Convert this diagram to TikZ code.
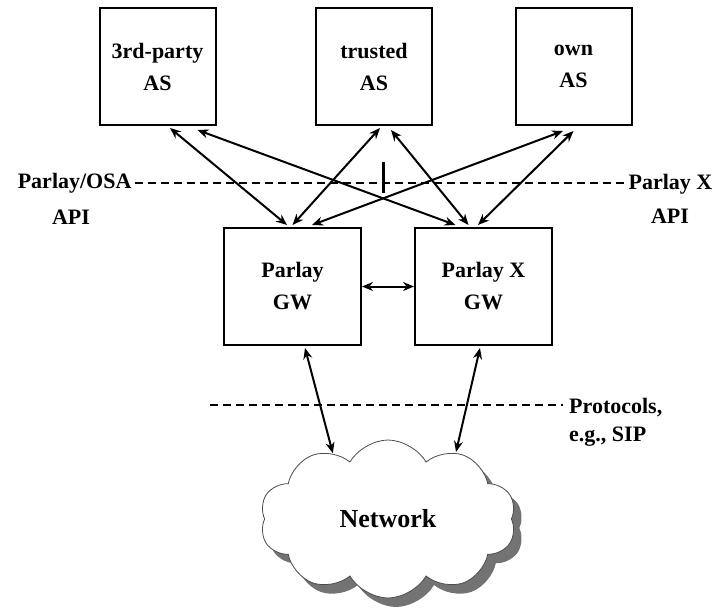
\documentclass[tikz,border=0pt]{standalone}
\usepackage{fontspec}
\setmainfont{Liberation Serif}
\usetikzlibrary{shapes.symbols,shadows,arrows.meta}

\begin{document}
\begin{tikzpicture}[x=1pt,y=-1pt,
    lbl/.style={font=\fontsize{22}{32}\selectfont\bfseries},
    box/.style={draw,line width=2pt,minimum width=116pt,minimum height=117pt,align=center,inner sep=0pt,lbl},
    gwbox/.style={box,minimum width=137pt},
    link/.style={{Stealth[length=11pt,width=9pt]}-{Stealth[length=11pt,width=9pt]},line width=2pt},
    sep/.style={dash pattern=on 8pt off 5pt,line width=2pt}]
    \useasboundingbox (0,0) rectangle (717,613);
    % application servers
    \node[box] (third) at (157.5,66.5) {3rd-party\\AS};
    \node[box] (trusted) at (374,66.5) {trusted\\AS};
    \node[box] (own) at (573.5,66.5) {own\\AS};
    % gateways
    \node[gwbox] (pgw) at (292.5,286.5) {Parlay\\GW};
    \node[gwbox] (pxgw) at (483.5,286.5) {Parlay X\\GW};
    % network
    \node[cloud,cloud puffs=10,cloud puff arc=120,aspect=1.6,draw=gray!60!black,fill=white,line width=0.8pt,
        minimum width=256pt,minimum height=158pt,
        drop shadow={shadow xshift=8pt,shadow yshift=-9pt,fill=black!55,opacity=1},
        font=\fontsize{26}{30}\selectfont\bfseries] (net) at (388,519) {Network};
    % API line
    \coordinate (apiL) at (135,183);
    \coordinate (apiR) at (626,183);
    \draw[sep] (apiL) -- (apiR);
    \coordinate (tickT) at (383,162);
    \coordinate (tickB) at (383,193);
    \draw[line width=3pt] (tickT) -- (tickB);
    \node[lbl,anchor=east] (osa) at (apiL) {Parlay/OSA};
    \node[lbl] (osaapi) at (71,217) {API};
    \node[lbl] (px) at (670.5,184) {Parlay X};
    \node[lbl] (pxapi) at (670,216) {API};
    % protocol line
    \coordinate (protL) at (210,405);
    \coordinate (protR) at (563,405);
    \draw[sep] (protL) -- (protR);
    \node[lbl,anchor=west,inner sep=0pt] (prot) at (569,408) {Protocols,};
    \node[lbl,anchor=west,inner sep=0pt] (sip) at (569,437) {e.g., SIP};
    % links
    \draw[link] ([xshift=12.5pt,yshift=-2pt]third.south) -- ([xshift=-5.5pt,yshift=2pt]pgw.north);
    \draw[link] ([xshift=40pt,yshift=-4pt]third.south) -- ([xshift=-28pt,yshift=2pt]pxgw.north);
    \draw[link] ([xshift=6pt,yshift=-2pt]trusted.south) -- ([yshift=2pt]pgw.north);
    \draw[link] ([xshift=17pt,yshift=-4pt]trusted.south) -- ([xshift=-15pt,yshift=2pt]pxgw.north);
    \draw[link] ([xshift=-10.5pt,yshift=-5pt]own.south) -- ([xshift=19.5pt,yshift=2pt]pgw.north);
    \draw[link] ([yshift=-5pt]own.south) -- ([xshift=-5.5pt,yshift=2pt]pxgw.north);
    \draw[link] (pgw.east) -- (pxgw.west);
    \draw[link] ([xshift=12.5pt,yshift=-2pt]pgw.south) -- (net.130);
    \draw[link] ([xshift=-3.5pt,yshift=-2pt]pxgw.south) -- ([shift={(68,-67)}]net.center);
\end{tikzpicture}
\end{document}
